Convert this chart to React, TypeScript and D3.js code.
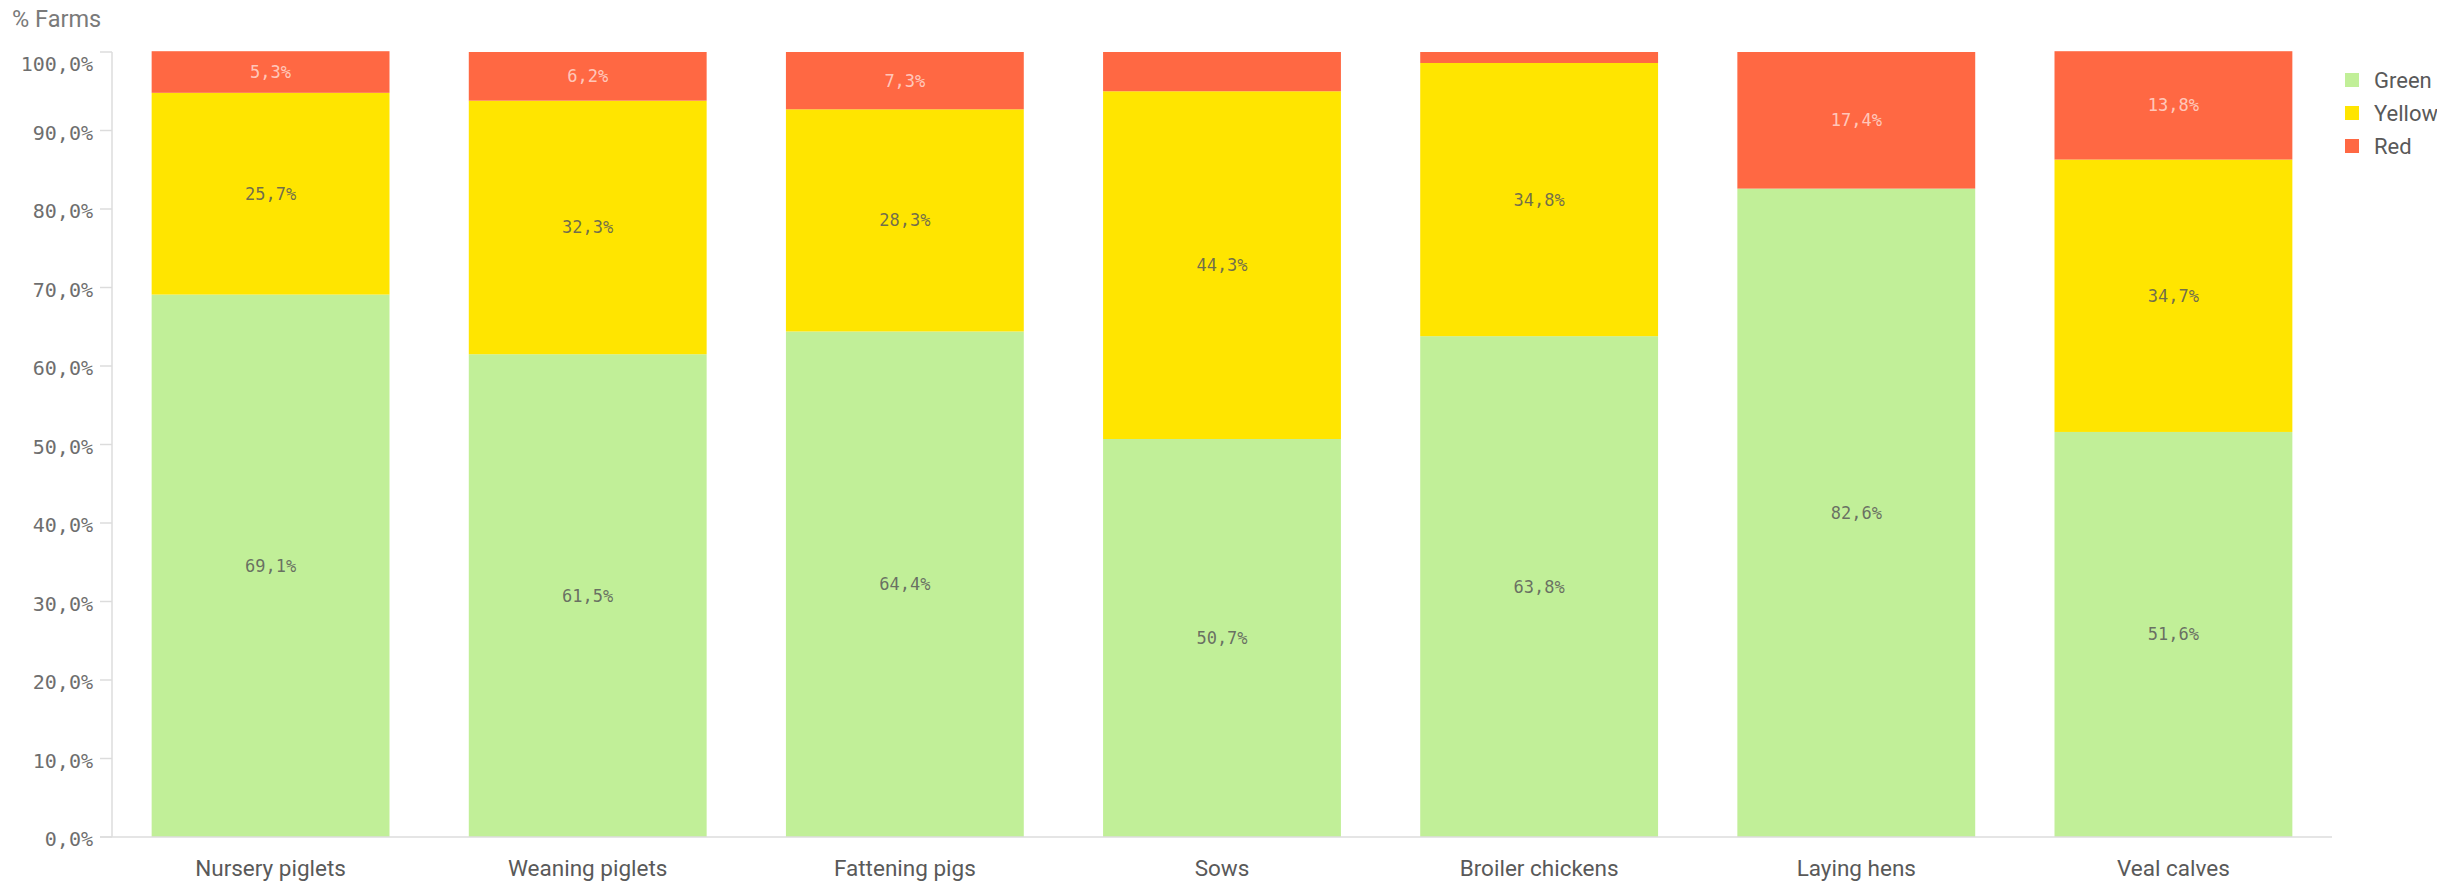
import React from "react";
import * as d3 from "d3";

const categories = [
  "Nursery piglets",
  "Weaning piglets",
  "Fattening pigs",
  "Sows",
  "Broiler chickens",
  "Laying hens",
  "Veal calves",
];
const greenValues = [69.1, 61.5, 64.4, 50.7, 63.8, 82.6, 51.6];
const yellowValues = [25.7, 32.3, 28.3, 44.3, 34.8, 0, 34.7];
const redValues = [5.3, 6.2, 7.3, 5.0, 1.4, 17.4, 13.8];
const seriesNames = ["Green", "Yellow", "Red"];
const seriesColors = ["#c1ef98", "#ffe500", "#ff6843"];
const yTicks = [0, 10, 20, 30, 40, 50, 60, 70, 80, 90, 100];
const yTitle = "% Farms";

const W = 2437;
const H = 883;
const axisX = 112;
const plotRight = 2332;
const yTop = 52;
const yBottom = 837;

const fmt = (v: number) => v.toFixed(1).replace(".", ",") + "%";

export default function App() {
  const x = d3
    .scaleBand<string>()
    .domain(categories)
    .range([axisX, plotRight])
    .paddingInner(0.25)
    .paddingOuter(0.125);
  const y = d3.scaleLinear().domain([0, 100]).range([yBottom, yTop]);

  const rows = categories.map((c, i) => ({
    cat: c,
    Green: greenValues[i],
    Yellow: yellowValues[i],
    Red: redValues[i],
  }));
  const stack = d3.stack<any>().keys(seriesNames);
  const stacked = stack(rows);

  const numFont = "'DejaVu Sans Mono', monospace";
  const textFont = "Roboto, 'Noto Sans', sans-serif";

  return (
    <svg
      width={W}
      height={H}
      style={{ position: "absolute", left: 0, top: 0, background: "#fff" }}
    >
      <text x={12} y={27} fontSize={23.5} fill="#7a7a7a" fontFamily={textFont}>
        {yTitle}
      </text>

      {/* bars */}
      {stacked.map((layer, si) =>
        layer.map((d, i) => {
          const v = d[1] - d[0];
          if (v <= 0) return null;
          const y0 = y(d[0]);
          const y1 = y(d[1]);
          const h = y0 - y1;
          const bx = x(categories[i])!;
          const bw = x.bandwidth();
          const isRed = seriesNames[si] === "Red";
          return (
            <g key={`${si}-${i}`}>
              <rect x={bx} y={y1} width={bw} height={h} fill={seriesColors[si]} />
              {h >= 40 && (
                <text
                  x={bx + bw / 2}
                  y={(y0 + y1) / 2}
                  textAnchor="middle"
                  dominantBaseline="central"
                  fontSize={17}
                  fontFamily={numFont}
                  fill={isRed ? "#ffffff" : "#595959"}
                  fillOpacity={isRed ? 0.65 : 0.85}
                >
                  {fmt(v)}
                </text>
              )}
            </g>
          );
        })
      )}

      {/* y axis */}
      <line x1={axisX} x2={axisX} y1={yTop} y2={yBottom} stroke="#dcdcdc" strokeWidth={1.5} />
      {yTicks.map((t) => (
        <g key={t}>
          <line x1={100} x2={axisX} y1={y(t)} y2={y(t)} stroke="#dcdcdc" strokeWidth={1.5} />
          <text
            x={93}
            y={t === 100 ? y(t) + 12 : y(t) + 2}
            textAnchor="end"
            dominantBaseline="central"
            fontSize={20}
            fontFamily={numFont}
            fill="#6e6e6e"
          >
            {fmt(t)}
          </text>
        </g>
      ))}

      {/* x axis */}
      <line x1={100} x2={plotRight} y1={yBottom} y2={yBottom} stroke="#dcdcdc" strokeWidth={1.5} />
      {categories.map((c) => (
        <text
          key={c}
          x={x(c)! + x.bandwidth() / 2}
          y={868}
          textAnchor="middle"
          dominantBaseline="central"
          fontSize={22.5}
          fontFamily={textFont}
          fill="#595959"
        >
          {c}
        </text>
      ))}

      {/* legend */}
      {seriesNames.map((s, i) => (
        <g key={s} transform={`translate(2345, ${80 + i * 33})`}>
          <rect x={0} y={-7} width={14} height={14} fill={seriesColors[i]} />
          <text
            x={29}
            y={0}
            dominantBaseline="central"
            fontSize={22}
            fontFamily={textFont}
            fill="#595959"
          >
            {s}
          </text>
        </g>
      ))}
    </svg>
  );
}
